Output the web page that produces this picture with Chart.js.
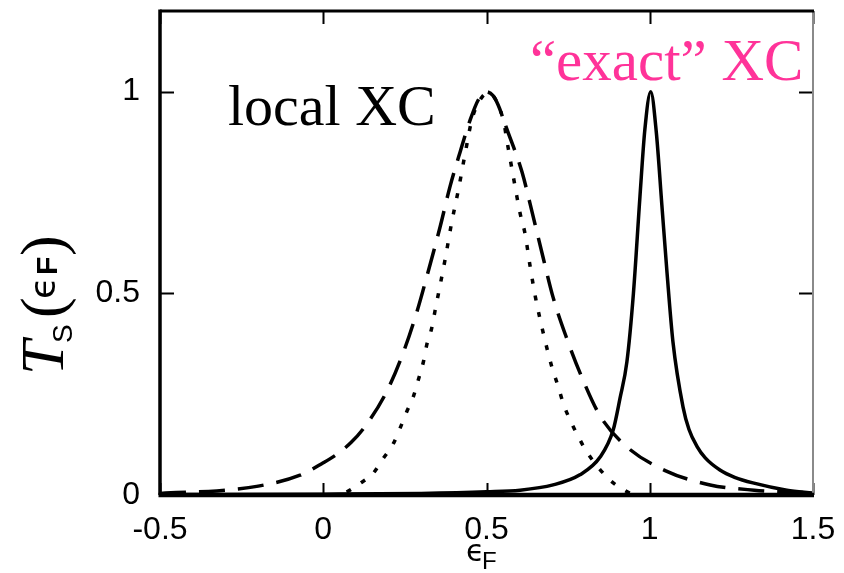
<!DOCTYPE html>
<html>
<head>
<meta charset="utf-8">
<title>Transmission at the Fermi energy</title>
<script src="https://cdn.jsdelivr.net/npm/chart.js@4/dist/chart.umd.min.js"></script>
<style>
  html, body { margin: 0; padding: 0; background: #fff; }
  #wrap { width: 844px; height: 573px; position: relative; }
</style>
</head>
<body>
<div id="wrap"><canvas id="c" width="844" height="573"></canvas></div>
<script>
// Axis ticks
const xTicks = [-0.5, 0, 0.5, 1, 1.5];
const yTicks = [0, 0.5, 1];

// "exact" XC transmission (solid)
const exactX = [-0.5, 0.0, 0.3, 0.5, 0.603, 0.704, 0.786, 0.848, 0.888, 0.909, 0.93, 0.95, 0.97, 0.985, 1.003, 1.02, 1.037, 1.053, 1.071, 1.102, 1.12, 1.145, 1.17, 1.215, 1.26, 1.316, 1.42, 1.5];
const exactY = [0.001, 0.002, 0.004, 0.008, 0.012, 0.025, 0.05, 0.094, 0.161, 0.24, 0.33, 0.5, 0.74, 0.906, 1.0, 0.9, 0.72, 0.55, 0.38, 0.218, 0.163, 0.12, 0.092, 0.062, 0.044, 0.03, 0.012, 0.005];

// local XC transmission, long dashes
const localX = [-0.5, -0.45, -0.326, -0.199, -0.071, 0.0, 0.038, 0.085, 0.128, 0.194, 0.245, 0.286, 0.32, 0.358, 0.388, 0.419, 0.45, 0.475, 0.497, 0.52, 0.535, 0.563, 0.609, 0.643, 0.673, 0.704, 0.745, 0.793, 0.848, 0.929, 1.049, 1.185, 1.32, 1.5];
const localY = [0.004, 0.006, 0.01, 0.022, 0.049, 0.08, 0.099, 0.13, 0.17, 0.256, 0.353, 0.452, 0.55, 0.665, 0.764, 0.85, 0.93, 0.98, 1.0, 0.99, 0.968, 0.906, 0.8, 0.69, 0.59, 0.49, 0.39, 0.29, 0.196, 0.12, 0.06, 0.025, 0.012, 0.005];

// local XC transmission, dotted
const dotX = [-0.5, 0.02, 0.067, 0.113, 0.153, 0.184, 0.215, 0.235, 0.256, 0.276, 0.291, 0.307, 0.317, 0.332, 0.342, 0.353, 0.373, 0.393, 0.414, 0.434, 0.455, 0.475, 0.503, 0.552, 0.562, 0.572, 0.582, 0.593, 0.603, 0.618, 0.633, 0.65, 0.674, 0.70, 0.72, 0.735, 0.756, 0.781, 0.807, 0.873, 0.914, 0.96, 0.98, 1.5];
const dotY = [0.0, 0.0, 0.006, 0.029, 0.054, 0.091, 0.128, 0.165, 0.207, 0.244, 0.285, 0.331, 0.372, 0.413, 0.455, 0.5, 0.583, 0.674, 0.757, 0.844, 0.93, 0.972, 0.997, 0.928, 0.881, 0.835, 0.79, 0.74, 0.698, 0.648, 0.57, 0.49, 0.401, 0.318, 0.268, 0.227, 0.186, 0.145, 0.107, 0.041, 0.016, 0.0, 0.0, 0.0];

const toPoints = (xs, ys) => xs.map((x, i) => ({ x: x, y: ys[i] }));

const SANS = "'Liberation Sans', Arial, sans-serif";
const SERIF = "'Liberation Serif', 'Times New Roman', serif";

// Frame, inward tick marks, labels and axis titles
const decorations = {
  id: 'decorations',
  afterDatasetsDraw(chart) {
    const { ctx, chartArea: a, scales } = chart;
    const xs = scales.x, ys = scales.y;
    ctx.save();
    ctx.strokeStyle = '#000';
    ctx.lineCap = 'butt';

    // inward ticks on all four sides
    ctx.lineWidth = 2;
    xTicks.forEach(v => {
      const px = Math.round(xs.getPixelForValue(v)) + 0.5;
      ctx.beginPath();
      ctx.moveTo(px, a.bottom); ctx.lineTo(px, a.bottom - 12);
      ctx.moveTo(px, a.top); ctx.lineTo(px, a.top + 13);
      ctx.stroke();
    });
    yTicks.forEach(v => {
      const py = Math.round(ys.getPixelForValue(v)) + 0.5;
      ctx.beginPath();
      ctx.moveTo(a.left, py); ctx.lineTo(a.left + 14, py);
      ctx.moveTo(a.right, py); ctx.lineTo(a.right - 14, py);
      ctx.stroke();
    });

    // frame
    ctx.strokeStyle = '#8a8a8a';
    ctx.lineWidth = 2;
    ctx.beginPath(); ctx.moveTo(a.right, a.top); ctx.lineTo(a.right, a.bottom); ctx.stroke();
    ctx.strokeStyle = '#000';
    ctx.lineWidth = 3;
    ctx.beginPath(); ctx.moveTo(a.left, a.top); ctx.lineTo(a.right + 1, a.top); ctx.stroke();
    ctx.lineWidth = 3.5;
    ctx.beginPath(); ctx.moveTo(a.left, a.top - 1.5); ctx.lineTo(a.left, a.bottom); ctx.stroke();
    ctx.lineWidth = 4.5;
    ctx.beginPath(); ctx.moveTo(a.left - 1.5, a.bottom); ctx.lineTo(a.right + 1, a.bottom); ctx.stroke();

    // curve labels
    ctx.textAlign = 'left';
    ctx.textBaseline = 'alphabetic';
    ctx.font = '58px ' + SERIF;
    ctx.fillStyle = '#000';
    ctx.fillText('local XC', xs.getPixelForValue(-0.292), ys.getPixelForValue(0.918));
    ctx.fillStyle = '#ff3399';
    ctx.font = '59px ' + SERIF;
    ctx.fillText('\u201cexact\u201d XC', xs.getPixelForValue(0.633), ys.getPixelForValue(1.03));

    // x axis title: ϵ_F
    ctx.fillStyle = '#000';
    ctx.font = '30px DejaVu Sans, sans-serif';
    ctx.fillText('\u03f5', 466, 561);
    ctx.font = '24px ' + SANS;
    ctx.fillText('F', 482, 569);

    // y axis title: T_S(ϵ_F), rotated
    ctx.save();
    ctx.translate(63, 375);
    ctx.rotate(-Math.PI / 2);
    ctx.font = 'italic 62px ' + SERIF;
    ctx.fillText('T', 0, 0);
    ctx.font = '28px ' + SANS;
    ctx.fillText('S', 32, 9);
    ctx.font = '62px ' + SERIF;
    ctx.fillText('(', 57, 0);
    ctx.font = '36px DejaVu Sans, sans-serif';
    ctx.fillText('\u03f5', 76, -8);
    ctx.font = 'bold 30px ' + SANS;
    ctx.fillText('F', 100, -6);
    ctx.font = '62px ' + SERIF;
    ctx.fillText(')', 119, 0);
    ctx.restore();

    ctx.restore();
  }
};

new Chart(document.getElementById('c'), {
  type: 'line',
  data: {
    datasets: [
      {
        label: 'local XC (dashed)',
        data: toPoints(localX, localY),
        borderColor: '#000',
        borderWidth: 3.5,
        borderDash: [26, 13],
        pointRadius: 0,
        cubicInterpolationMode: 'monotone',
        fill: false
      },
      {
        label: 'local XC (dotted)',
        data: toPoints(dotX, dotY),
        borderColor: '#000',
        borderWidth: 3.5,
        borderDash: [5, 12],
        pointRadius: 0,
        cubicInterpolationMode: 'monotone',
        fill: false
      },
      {
        label: 'exact XC',
        data: toPoints(exactX, exactY),
        borderColor: '#000',
        borderWidth: 3.5,
        pointRadius: 0,
        cubicInterpolationMode: 'monotone',
        fill: false
      }
    ]
  },
  options: {
    responsive: false,
    animation: false,
    devicePixelRatio: 1,
    layout: { padding: { left: 0, top: 11, right: 31, bottom: 0 } },
    plugins: { legend: { display: false }, tooltip: { enabled: false } },
    scales: {
      x: {
        type: 'linear',
        min: -0.5,
        max: 1.5,
        afterBuildTicks: s => { s.ticks = xTicks.map(v => ({ value: v })); },
        afterFit: s => { s.height = 78; s.paddingLeft = 0; s.paddingRight = 0; },
        grid: { display: false, drawTicks: false },
        border: { display: false },
        ticks: {
          padding: 16,
          color: '#000',
          font: { family: SANS, size: 32 },
          callback: v => String(v)
        }
      },
      y: {
        type: 'linear',
        min: 0,
        max: 1.2,
        afterBuildTicks: s => { s.ticks = yTicks.map(v => ({ value: v })); },
        afterFit: s => { s.width = 160; s.paddingTop = 0; s.paddingBottom = 0; },
        grid: { display: false, drawTicks: false },
        border: { display: false },
        ticks: {
          padding: 20,
          color: '#000',
          font: { family: SANS, size: 32 },
          callback: v => String(v)
        }
      }
    }
  },
  plugins: [decorations]
});
</script>
</body>
</html>
